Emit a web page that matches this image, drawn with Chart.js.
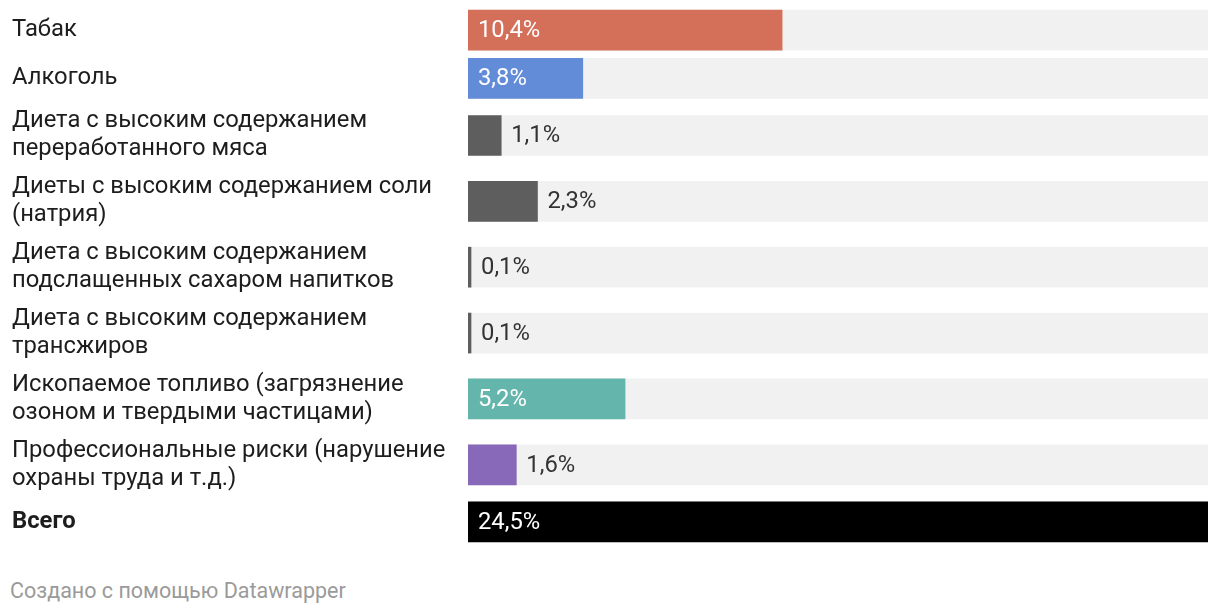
<!DOCTYPE html>
<html><head><meta charset="utf-8">
<script src="https://cdn.jsdelivr.net/npm/chart.js@4"></script>
<style>
body{margin:0;background:#fff;font-family:Roboto,sans-serif}
#wrap{position:relative;width:1220px;height:616px}
#footer{position:absolute;left:10px;top:578px;font-size:21.5px;color:#9a9a9a;font-family:Roboto,sans-serif}
</style>
</head><body>
<div id="wrap">
<canvas id="c" width="1220" height="560"></canvas>
<div id="footer">Создано с помощью Datawrapper</div>
</div>
<script>
const categories = [
  ["Табак"],
  ["Алкоголь"],
  ["Диета с высоким содержанием", "переработанного мяса"],
  ["Диеты с высоким содержанием соли", "(натрия)"],
  ["Диета с высоким содержанием", "подслащенных сахаром напитков"],
  ["Диета с высоким содержанием", "трансжиров"],
  ["Ископаемое топливо (загрязнение", "озоном и твердыми частицами)"],
  ["Профессиональные риски (нарушение", "охраны труда и т.д.)"],
  ["Всего"]
];
const values = [10.4, 3.8, 1.1, 2.3, 0.1, 0.1, 5.2, 1.6, 24.5];
const colors = ["#d4705a", "#628bd8", "#5e5e5e", "#5e5e5e", "#5e5e5e", "#5e5e5e", "#64b5ac", "#8868b8", "#000000"];
const valueLabels = values.map(v => v.toFixed(1).replace('.', ',') + '%');

const rowH = n => n > 1 ? 65.5 : 48;
let acc = 0;
const centers = categories.map(c => { const h = rowH(c.length); const m = acc + h / 2; acc += h; return m; });
const total = acc;
const maxV = Math.max(...values);

const labelPlugin = {
  id: 'vals',
  afterDatasetsDraw(chart) {
    const meta = chart.getDatasetMeta(0);
    const c = chart.ctx;
    c.save();
    c.font = '23.8px Roboto';
    c.textBaseline = 'middle';
    c.textAlign = 'left';
    meta.data.forEach((bar, i) => {
      const t = valueLabels[i];
      const w = c.measureText(t).width;
      const bw = bar.x - bar.base;
      if (bw > w + 30) { c.fillStyle = '#fff'; c.fillText(t, bar.base + 10, bar.y + 1); }
      else { c.fillStyle = '#333'; c.fillText(t, bar.x + 10, bar.y + 1); }
    });
    c.restore();
  }
};

new Chart(document.getElementById('c'), {
  type: 'bar',
  data: {
    datasets: [
      { data: values.map((v, i) => ({ x: v, y: centers[i] })), backgroundColor: colors, barThickness: 40, grouped: false, order: 1 },
      { data: values.map((v, i) => ({ x: maxV, y: centers[i] })), backgroundColor: '#f1f1f1', barThickness: 40, grouped: false, order: 2 }
    ]
  },
  options: {
    indexAxis: 'y',
    responsive: false,
    animation: false,
    layout: { padding: { left: 12, right: 12, top: 6, bottom: 14 } },
    plugins: { legend: { display: false }, tooltip: { enabled: false } },
    scales: {
      x: { type: 'linear', min: 0, max: maxV, display: false },
      y: {
        type: 'linear', reverse: true, min: 0, max: total, offset: false, bounds: 'data', grace: 0,
        grid: { display: false, offset: false }, border: { display: false },
        afterDataLimits: s => { s.min = 0; s.max = total; },
        afterBuildTicks: s => { s.ticks = centers.map(v => ({ value: v })); },
        afterFit: s => { s.width = 456; s.paddingTop = 0; s.paddingBottom = 0; },
        ticks: {
          autoSkip: false,
          callback: (v, i) => categories[i],
          crossAlign: 'far', padding: 0, color: '#1d1d1d',
          font: c => ({ family: 'Roboto', size: 23.8, lineHeight: 1.18, weight: c.index === categories.length - 1 ? 'bold' : 'normal' })
        }
      }
    }
  },
  plugins: [labelPlugin]
});
</script>
</body></html>
